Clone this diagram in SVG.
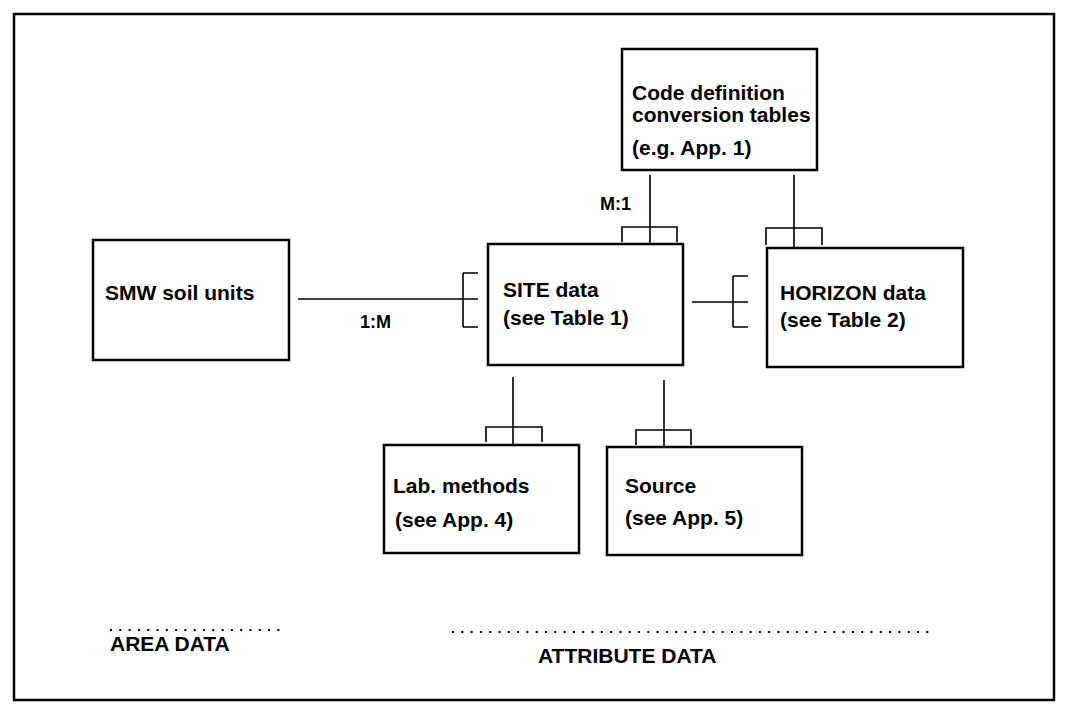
<svg xmlns="http://www.w3.org/2000/svg" width="1068" height="714" viewBox="0 0 1068 714">
<style>
.box{fill:none;stroke:#000;stroke-width:2.5}
.ln{fill:none;stroke:#000;stroke-width:1.6}
.t{font-family:"Liberation Sans",Arial,sans-serif;font-weight:bold;font-size:21px;fill:#000}
.s{font-family:"Liberation Sans",Arial,sans-serif;font-weight:bold;font-size:18px;fill:#000}
.dot{fill:none;stroke:#000;stroke-width:2;stroke-dasharray:2 7.3}
</style>
<rect x="0" y="0" width="1068" height="714" fill="#fff"/>
<rect id="frame" x="14" y="14" width="1040" height="686" class="box"/>
<g id="smw"><rect x="93" y="240" width="196" height="120" class="box"/><text x="105" y="300" class="t">SMW soil units</text></g>
<g id="code"><rect x="622" y="49" width="195" height="121" class="box"/><text x="632" y="100" class="t">Code definition</text><text x="632" y="122" class="t">conversion tables</text><text x="632" y="155" class="t">(e.g. App. 1)</text></g>
<g id="site"><rect x="488" y="244" width="195" height="121" class="box"/><text x="503" y="297" class="t">SITE data</text><text x="503" y="325" class="t">(see Table 1)</text></g>
<g id="horizon"><rect x="767" y="248" width="196" height="119" class="box"/><text x="780" y="300" class="t">HORIZON data</text><text x="780" y="327" class="t">(see Table 2)</text></g>
<g id="lab"><rect x="384" y="445" width="195" height="108" class="box"/><text x="393" y="493" class="t">Lab. methods</text><text x="395" y="527" class="t">(see App. 4)</text></g>
<g id="source"><rect x="607" y="447" width="195" height="108" class="box"/><text x="625" y="493" class="t">Source</text><text x="625" y="525" class="t">(see App. 5)</text></g>
<g id="connectors">
<path class="ln" d="M298 299H478M463 273V327M463 273H478M463 327H478"/>
<path class="ln" d="M650 175V243M622 242V227H677V242"/>
<path class="ln" d="M794 175V247M766 245V228H822V245"/>
<path class="ln" d="M692 302H748M733 276V327M733 276H748M733 327H748"/>
<path class="ln" d="M513 377V444M486 442V427H542V442"/>
<path class="ln" d="M664 380V446M636 445V430H691V445"/>
<text x="360" y="328" class="s">1:M</text>
<text x="600" y="210" class="s">M:1</text>
</g>
<g id="labels">
<line x1="110" y1="630" x2="282" y2="630" class="dot"/>
<text x="110" y="651" class="t">AREA DATA</text>
<line x1="452" y1="632" x2="932" y2="632" class="dot"/>
<text x="538" y="663" class="t">ATTRIBUTE DATA</text>
</g>
</svg>
